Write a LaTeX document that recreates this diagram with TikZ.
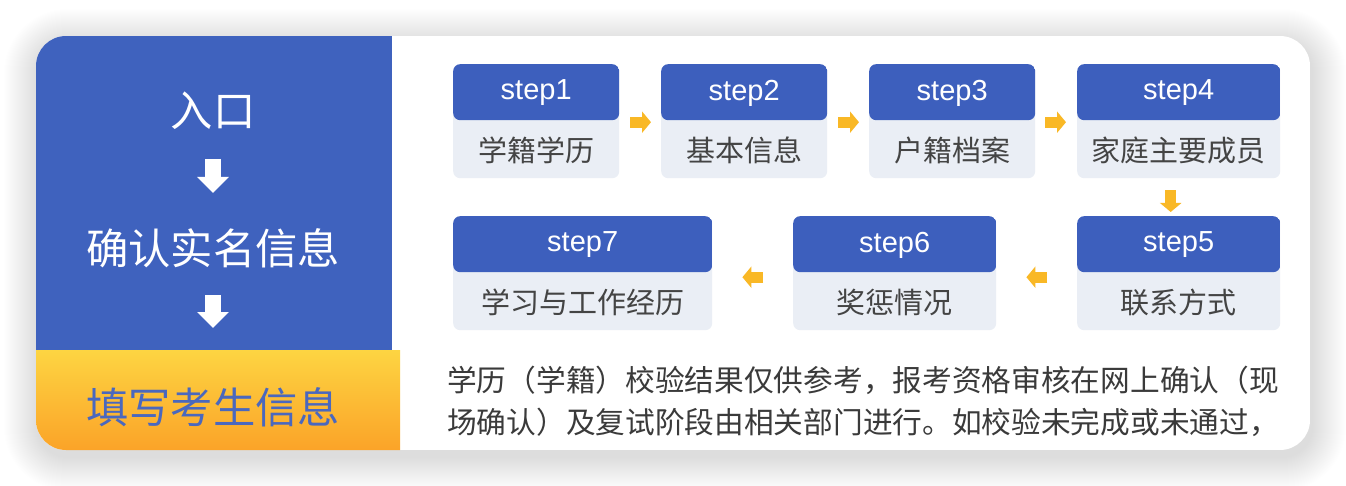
\documentclass[tikz,border=0pt]{standalone}
\usepackage{fontspec}
\setmainfont{Noto Sans CJK SC}
\newfontfamily\stepfont{Liberation Sans}
\usetikzlibrary{arrows.meta,calc}
\definecolor{panelblue}{HTML}{3F62BE}
\definecolor{hdrblue}{HTML}{3D5FBD}
\definecolor{bodygray}{HTML}{EAEEF5}
\definecolor{orA}{HTML}{FDD542}
\definecolor{orB}{HTML}{FBA328}
\definecolor{arrowor}{HTML}{F9B826}
\definecolor{txtgray}{HTML}{3A3A3A}
\definecolor{bodytxt}{HTML}{444444}
\definecolor{fillblue}{HTML}{4A68BE}
\begin{document}
\begin{tikzpicture}[x=1pt,y=-1pt,
  stepbox/.style={fill=bodygray, rounded corners=7pt, inner sep=0pt, minimum height=114pt, anchor=north west,
    path picture={\fill[hdrblue] (path picture bounding box.north west) rectangle ([yshift=-56pt]path picture bounding box.north east);}},
  hdrtxt/.style={text=white, font=\stepfont\fontsize{29}{32}\selectfont, inner sep=0pt},
  bodytext/.style={text=bodytxt, font=\fontsize{29}{32}\selectfont, inner sep=0pt},
  lefttxt/.style={text=white, font=\fontsize{42.3}{46}\selectfont, inner sep=0pt},
  paratxt/.style={text=txtgray, font=\fontsize{29.7}{33}\selectfont, inner sep=0pt, anchor=west},
  orarrow/.style={draw=arrowor, line width=11pt, -{Triangle[length=9pt,width=21pt]}},
  whitearrow/.style={draw=white, line width=16pt, -{Triangle[length=16pt,width=31pt]}}
]
\useasboundingbox (0,0) rectangle (1346,486);
\fill[white] (0,0) rectangle (1346,486);
% shadow
\foreach \i in {1,...,34} {
  \pgfmathsetmacro\rr{30+\i}
  \fill[black, opacity=0.0055, rounded corners=\rr pt] (36-\i+2, 36-\i+7) rectangle (1310+\i+2, 450+\i+7);
}
% card
\begin{scope}
  \clip[rounded corners=30pt] (36,36) rectangle (1310,450);
  \fill[white] (36,36) rectangle (1310,450);
  \fill[panelblue] (36,36) rectangle (392,350);
  \shade[top color=orA, bottom color=orB] (36,350) rectangle (400,450);
\end{scope}
% left column
\node[lefttxt] (entry) at (213,111) {入口};
\node[lefttxt] (confirm) at (213,248) {确认实名信息};
\node[lefttxt, text=fillblue] (fillin) at (213,407) {填写考生信息};
\draw[whitearrow, shorten <=48pt, shorten >=55pt] (entry.center) -- (confirm.center);
\draw[whitearrow, shorten <=47pt, shorten >=79pt] (confirm.center) -- (fillin.center);
% step boxes
\node[stepbox, minimum width=166pt] (s1) at (453,64) {};
\node[stepbox, minimum width=166pt] (s2) at (661,64) {};
\node[stepbox, minimum width=166pt] (s3) at (869,64) {};
\node[stepbox, minimum width=203pt] (s4) at (1077,64) {};
\node[stepbox, minimum width=203pt] (s5) at (1077,216) {};
\node[stepbox, minimum width=203pt] (s6) at (793,216) {};
\node[stepbox, minimum width=259pt] (s7) at (453,216) {};
\foreach \s/\h/\b in {s1/step1/学籍学历, s2/step2/基本信息, s3/step3/户籍档案, s4/step4/家庭主要成员,
                      s5/step5/联系方式, s6/step6/奖惩情况, s7/step7/学习与工作经历} {
  \node[hdrtxt] (\s h) at ($(\s.north)+(0,29)$) {\h};
  \node[bodytext] (\s b) at ($(\s.south)+(0,-28)$) {\b};
}
% connectors
\draw[orarrow, shorten <=11pt, shorten >=10pt] ([yshift=-1pt]s1.east) -- ([yshift=-1pt]s2.west);
\draw[orarrow, shorten <=11pt, shorten >=10pt] ([yshift=-1pt]s2.east) -- ([yshift=-1pt]s3.west);
\draw[orarrow, shorten <=10pt, shorten >=11pt] ([yshift=-1pt]s3.east) -- ([yshift=-1pt]s4.west);
\draw[orarrow, shorten <=12pt, shorten >=4pt] ([xshift=-8pt]s4.south) -- ([xshift=-8pt]s5.north);
\draw[orarrow, shorten <=30pt, shorten >=30pt] ([yshift=-4pt]s5.west) -- ([yshift=-4pt]s6.east);
\draw[orarrow, shorten <=30pt, shorten >=30pt] ([yshift=-4pt]s6.west) -- ([yshift=-4pt]s7.east);
% note text
\node[paratxt] (line1) at (447,380) {学历（学籍）校验结果仅供参考，报考资格审核在网上确认（现};
\node[paratxt] (line2) at (447,422) {场确认）及复试阶段由相关部门进行。如校验未完成或未通过，};
\end{tikzpicture}
\end{document}
